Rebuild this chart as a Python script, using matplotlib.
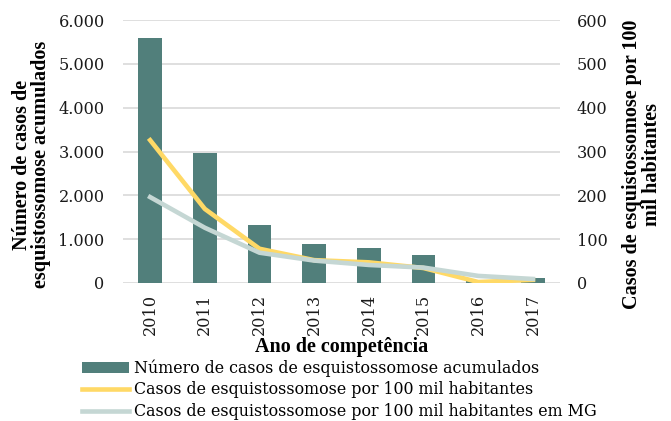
import numpy as np
import matplotlib.pyplot as plt
from matplotlib.ticker import FuncFormatter

# Dados
anos = ["2010", "2011", "2012", "2013", "2014", "2015", "2016", "2017"]
casos_acumulados = [5600, 2970, 1330, 880, 790, 630, 50, 110]
taxa_100mil = [326, 169, 78, 52, 47, 34, 2, 7]
taxa_100mil_mg = [196, 126, 69, 51, 41, 35, 16, 9]

plt.rcParams['font.family'] = ['DejaVu Serif']
titulo_font = dict(family=['Liberation Serif', 'DejaVu Serif'], size=14.5, weight="bold")

fig = plt.figure(figsize=(6.71, 4.21), dpi=100)
ax = fig.add_axes([0.183, 0.328, 0.652, 0.624])
ax2 = ax.twinx()

x = np.arange(len(anos))
bars = ax.bar(x, casos_acumulados, width=0.43, color="#517F7B",
              label="Número de casos de esquistossomose acumulados", zorder=2)
l1, = ax2.plot(x, taxa_100mil, color="#FFD966", lw=3.3,
               label="Casos de esquistossomose por 100 mil habitantes", zorder=3)
l2, = ax2.plot(x, taxa_100mil_mg, color="#C5D7D4", lw=3.3,
               label="Casos de esquistossomose por 100 mil habitantes em MG", zorder=4)

ax.set_xlim(-0.5, len(anos) - 0.5)
ax.set_ylim(0, 6000)
ax2.set_ylim(0, 600)
ax.set_yticks(np.arange(0, 6001, 1000))
ax2.set_yticks(np.arange(0, 601, 100))
ax.yaxis.set_major_formatter(FuncFormatter(lambda v, p: f"{int(v):,}".replace(",", ".")))
ax.grid(axis="y", color="#D9D9D9", lw=1.2, zorder=0)
ax.set_axisbelow(True)

for a in (ax, ax2):
    for s in a.spines.values():
        s.set_visible(False)
    a.tick_params(length=0, labelsize=11.6, labelcolor="#1a1a1a")
ax.tick_params(axis="y", pad=13)
ax.tick_params(axis="x", pad=8)
ax2.tick_params(axis="y", pad=12)

ax.set_xticks(x)
ax.set_xticklabels(anos, rotation=90)
ax.set_xlabel("Ano de competência", fontdict=titulo_font, labelpad=1)
ax.set_ylabel("Número de casos de\nesquistossomose acumulados", fontdict=titulo_font,
              linespacing=0.95)
ax2.set_ylabel("Casos de esquistossomose por 100\nmil habitantes", fontdict=titulo_font,
               linespacing=0.95)
ax.yaxis.set_label_coords(-0.164, 0.45)
ax2.yaxis.set_label_coords(1.142, 0.45)

ax2.set_zorder(ax.get_zorder() + 1)
ax2.patch.set_visible(False)

fig.legend(handles=[bars, l1, l2], loc="upper left", bbox_to_anchor=(0.122, 0.147),
           frameon=False, fontsize=11.4, handlelength=3.0, handletextpad=0.3,
           labelspacing=0.3, borderpad=0, borderaxespad=0)

fig.savefig("out.png", dpi=100)
